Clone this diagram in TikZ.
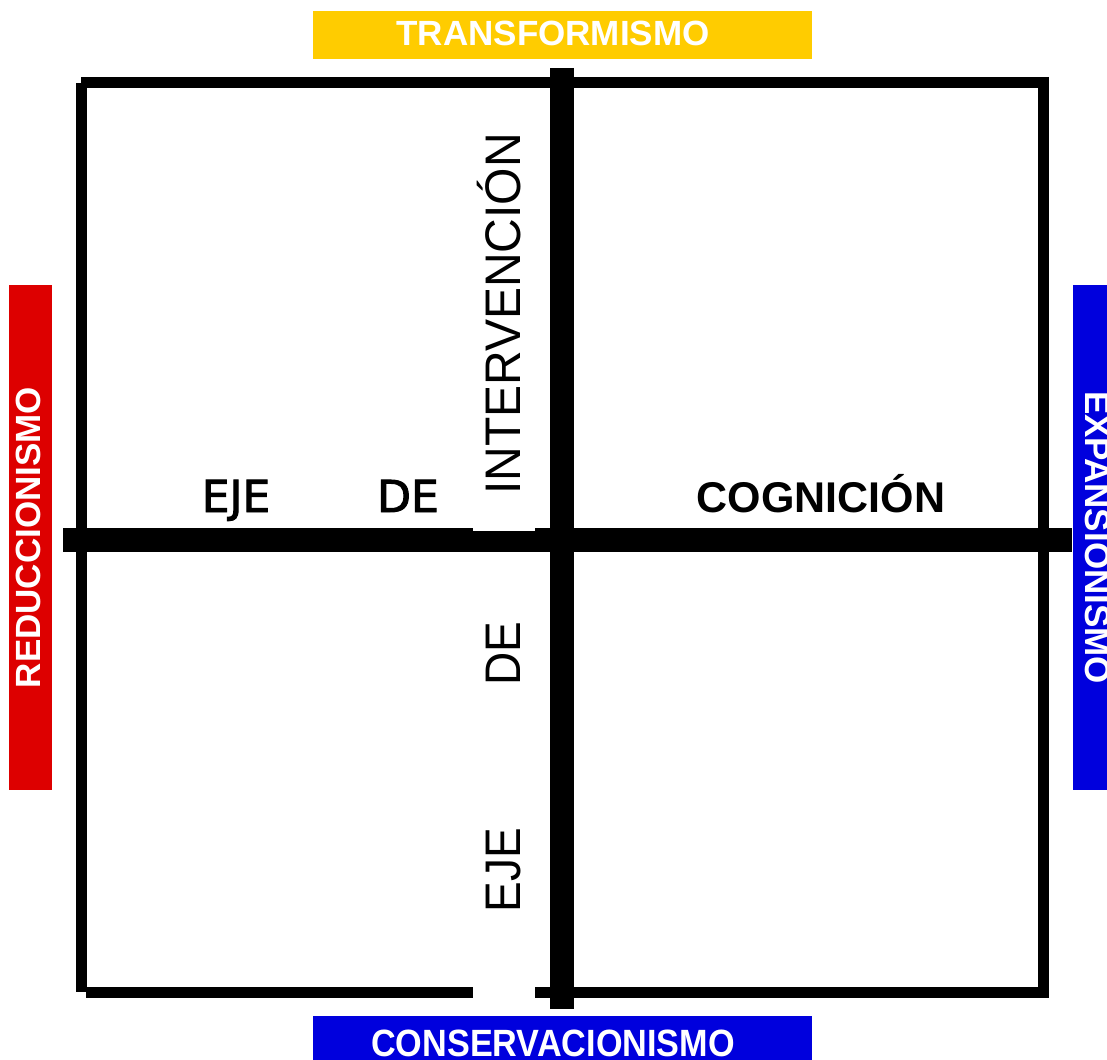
\documentclass[tikz,border=0pt]{standalone}
\usepackage{graphicx}
\usepackage{fontspec}
\setmainfont{Liberation Sans}
\newfontfamily\dvs{DejaVu Sans}[BoldFont={DejaVu Sans},BoldFeatures={FakeBold=2.2}]
\definecolor{redbar}{RGB}{221,0,0}
\definecolor{bluebar}{RGB}{0,0,221}
\definecolor{yellowbar}{RGB}{255,204,0}
\tikzset{
  thinline/.style={line width=11pt, black},
  thickline/.style={line width=24pt, black},
  lbl/.style={inner sep=0pt, anchor=base},
  banner/.style={lbl, text=white, font=\bfseries\fsz{35}},
  vlbl/.style={lbl, rotate=90, font=\fsz{50}},
}
\newcommand{\fsz}[1]{\fontsize{#1}{#1}\selectfont}
\begin{document}
\begin{tikzpicture}[x=1pt,y=-1pt]
\useasboundingbox (0,0) rectangle (1107,1059);
\clip (0,0) rectangle (1107,1059);
\fill[white] (0,0) rectangle (1107,1059);
% colour bars
\fill[yellowbar] (313,11) rectangle (812,59);
\fill[bluebar] (313,1016) rectangle (812,1075);
\fill[redbar] (9,285) rectangle (52,790);
\fill[bluebar] (1073,285) rectangle (1125,790);
% frame corners
\coordinate (tl) at (81,82.5);
\coordinate (tr) at (1049,82.5);
\coordinate (lt) at (81,83);
\coordinate (lb) at (81,992);
\coordinate (bl) at (86,992);
\coordinate (br) at (1049,992);
\coordinate (rt) at (1043.5,77);
\coordinate (rb) at (1043.5,997);
\draw[thinline] (tl) -- (tr);
\draw[thinline] (lt) -- (lb);
\draw[thinline] (bl) -- (br);
\draw[thinline] (rt) -- (rb);
% axes
\coordinate (vtop) at (562,68);
\coordinate (vbot) at (562,1009);
\coordinate (hleft) at (63,540);
\coordinate (hright) at (1072,540);
\draw[thickline] (vtop) -- (vbot);
\draw[thickline] (hleft) -- (hright);
% white backgrounds of vertical labels
\fill[white] (473,120) rectangle (535,530.7);
\fill[white] (473,560) rectangle (535,1001);
% banners
\node[banner] (transf) at (553,46) {TRANSFORMISMO};
\node[banner, font=\bfseries\fsz{38}] (conserv) at (553,1056) {\scalebox{0.9}[1]{CONSERVACIONISMO}};
\node[banner, rotate=90] (reduc) at (40,537.5) {REDUCCIONISMO};
\node[banner, rotate=-90] (expan) at (1085,537.5) {EXPANSIONISMO};
% horizontal axis labels
\node[lbl, font=\dvs\bfseries\fsz{44}] (eje1) at (236,512) {EJE};
\node[lbl, font=\dvs\bfseries\fsz{44}] (de1) at (408,512) {DE};
\node[lbl, font=\bfseries\fsz{43}] (cogn) at (821,512) {COGNICIÓN};
% vertical axis labels
\node[vlbl] (interv) at (520,314) {\scalebox{0.96}[1]{INTERVENCIÓN}};
\node[vlbl] (de2) at (520,654) {\scalebox{0.92}[1]{DE}};
\node[vlbl] (eje2) at (520,870) {\scalebox{0.92}[1]{EJE}};
\end{tikzpicture}
\end{document}
